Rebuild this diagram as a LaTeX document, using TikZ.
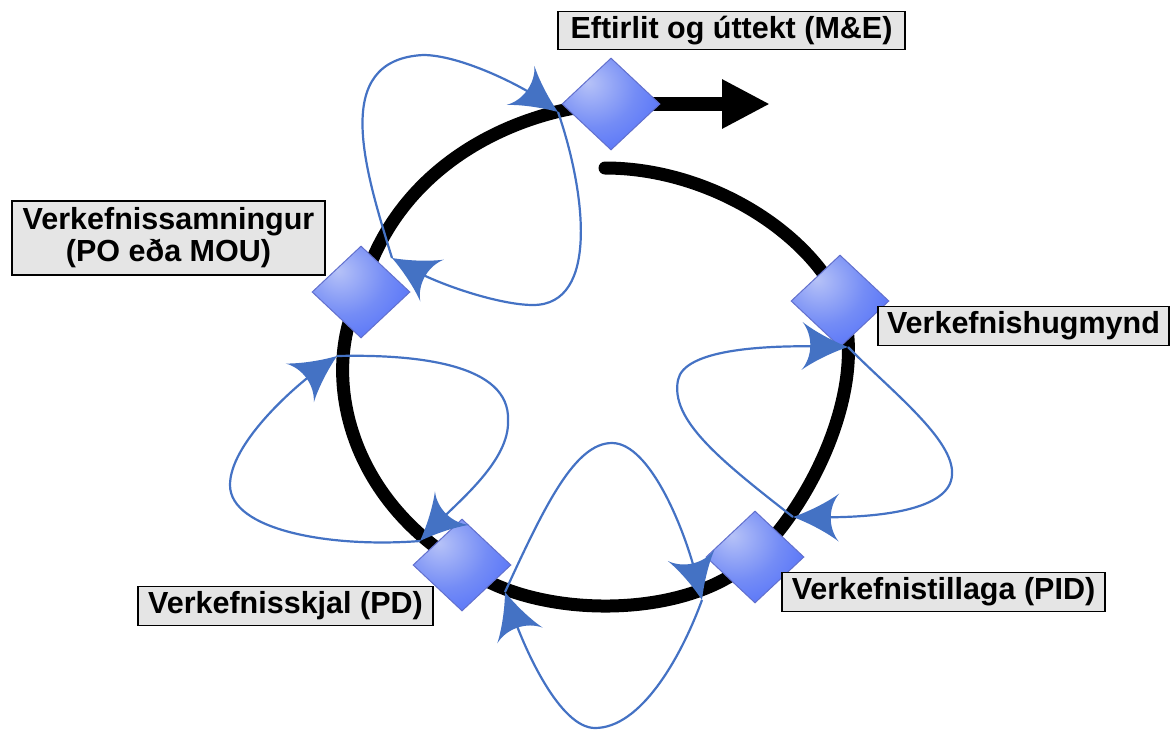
\documentclass[tikz,border=0pt]{standalone}
\usepackage{fontspec}
\setmainfont{Liberation Sans}
\usetikzlibrary{arrows.meta,shapes.geometric}

\definecolor{dlight}{RGB}{182,194,247}
\definecolor{dmid}{RGB}{116,140,246}
\definecolor{ddark}{RGB}{62,95,250}
\definecolor{dborder}{RGB}{98,112,205}
\definecolor{loopblue}{RGB}{68,114,196}
\definecolor{lblgray}{RGB}{229,229,229}

\pgfdeclareradialshading{diamshade}{\pgfpoint{-12bp}{12bp}}{color(0bp)=(dlight); color(22bp)=(dmid); color(50bp)=(ddark); color(100bp)=(ddark)}

\pgfdeclarearrow{
  name = Curvy,
  parameters = {\the\pgfarrowlength,\the\pgfarrowwidth},
  setup code = {
    \pgfarrowssettipend{0pt}
    \pgfarrowssetlineend{-0.5\pgfarrowlength}
    \pgfarrowssetbackend{-\pgfarrowlength}
    \pgfarrowsupperhullpoint{0pt}{0pt}
    \pgfarrowsupperhullpoint{-\pgfarrowlength}{0.5\pgfarrowwidth}
    \pgfarrowssavethe\pgfarrowlength
    \pgfarrowssavethe\pgfarrowwidth
  },
  drawing code = {
    \pgfpathmoveto{\pgfpointorigin}
    \pgfpathcurveto{\pgfpoint{-0.35\pgfarrowlength}{0.12\pgfarrowwidth}}{\pgfpoint{-0.75\pgfarrowlength}{0.32\pgfarrowwidth}}{\pgfpoint{-\pgfarrowlength}{0.5\pgfarrowwidth}}
    \pgfpathcurveto{\pgfpoint{-0.76\pgfarrowlength}{0.22\pgfarrowwidth}}{\pgfpoint{-0.76\pgfarrowlength}{-0.22\pgfarrowwidth}}{\pgfpoint{-\pgfarrowlength}{-0.5\pgfarrowwidth}}
    \pgfpathcurveto{\pgfpoint{-0.75\pgfarrowlength}{-0.32\pgfarrowwidth}}{\pgfpoint{-0.35\pgfarrowlength}{-0.12\pgfarrowwidth}}{\pgfpointorigin}
    \pgfpathclose
    \pgfusepathqfill
  },
  defaults = {length = 46pt, width = 48pt}
}

\pgfdeclarelayer{bg}
\pgfsetlayers{bg,main}

\begin{document}
\begin{tikzpicture}[x=1pt,y=-1pt,
  ring/.style={line width=13pt, draw=black},
  loopline/.style={line width=2.2pt, draw=loopblue, -{Curvy[length=46pt,width=48pt]}},
  diam/.style={diamond, minimum width=98pt, minimum height=92pt, inner sep=0pt,
    draw=dborder, line width=1pt, shade, shading=diamshade},
  lblbase/.style={draw=black, line width=1.3pt, fill=lblgray,
    font=\fontsize{30.5}{32}\selectfont\bfseries, inner xsep=9pt, inner ysep=5pt},
  lbl/.style={lblbase, text height=22pt, text depth=6.5pt},
]
\useasboundingbox (0,0) rectangle (1173,732);

% diamonds
\node[diam] (me)  at (611,104) {};
\node[diam] (po)  at (361,292) {};
\node[diam] (pd)  at (462,565) {};
\node[diam] (pid) at (755,557) {};
\node[diam] (hug) at (840,301) {};

\coordinate (meout)   at (770,104);
\coordinate (ringend) at (605,168);

\begin{pgfonlayer}{bg}
\draw[ring] (me.center) .. controls (540,106) and (400,150) .. (po.center)
  .. controls (320,370) and (345,495) .. (pd.center)
  .. controls (530,620) and (690,622) .. (pid.center)
  .. controls (815,500) and (870,380) .. (hug.center);
\draw[ring, line cap=round] (hug.center) .. controls (805,228) and (705,168) .. (ringend);
\draw[line width=14pt, -{Triangle[length=48pt,width=46pt]}] (me.center) -- (meout);
\end{pgfonlayer}

% touch points of the loops
\coordinate (A) at (558,112);
\coordinate (B) at (392,258);
\coordinate (C) at (337,356);
\coordinate (D) at (420,541);
\coordinate (E) at (505,592);
\coordinate (F) at (702,600);
\coordinate (G) at (793,517);
\coordinate (H) at (848,347);

\draw[loopline] (B) .. controls (365,170) and (330,60) .. (423,55) .. controls (460,55) and (520,85) .. (A);
\draw[loopline] (A) .. controls (585,190) and (600,305) .. (533,305) .. controls (500,305) and (440,285) .. (B);
\draw[loopline] (C) .. controls (420,354) and (510,365) .. (508,420) .. controls (510,460) and (460,500) .. (D);
\draw[loopline] (D) .. controls (330,548) and (230,530) .. (230,485) .. controls (230,445) and (290,390) .. (C);
\draw[loopline] (E) .. controls (545,505) and (575,443) .. (612,443) .. controls (650,443) and (685,530) .. (F);
\draw[loopline] (F) .. controls (680,660) and (640,728) .. (595,728) .. controls (560,728) and (525,650) .. (E);
\draw[loopline] (G) .. controls (720,460) and (670,420) .. (678,380) .. controls (684,350) and (760,345) .. (H);
\draw[loopline] (H) .. controls (890,390) and (955,440) .. (952,475) .. controls (950,510) and (880,518) .. (G);

% labels
\node[lbl, minimum width=347pt] (melbl) at (731.5,30.5) {Eftirlit og úttekt (M\&E)};
\node[lblbase, align=center, minimum width=313pt, minimum height=74pt] (polbl) at (168.5,238) {Verkefnissamningur\\(PO eða MOU)};
\node[lbl, minimum width=291pt] (huglbl) at (1023.5,326) {Verkefnishugmynd};
\node[lbl, minimum width=323pt] (pidlbl) at (943.5,592) {Verkefnistillaga (PID)};
\node[lbl, minimum width=295pt] (pdlbl) at (285.5,606) {Verkefnisskjal (PD)};
\end{tikzpicture}
\end{document}
